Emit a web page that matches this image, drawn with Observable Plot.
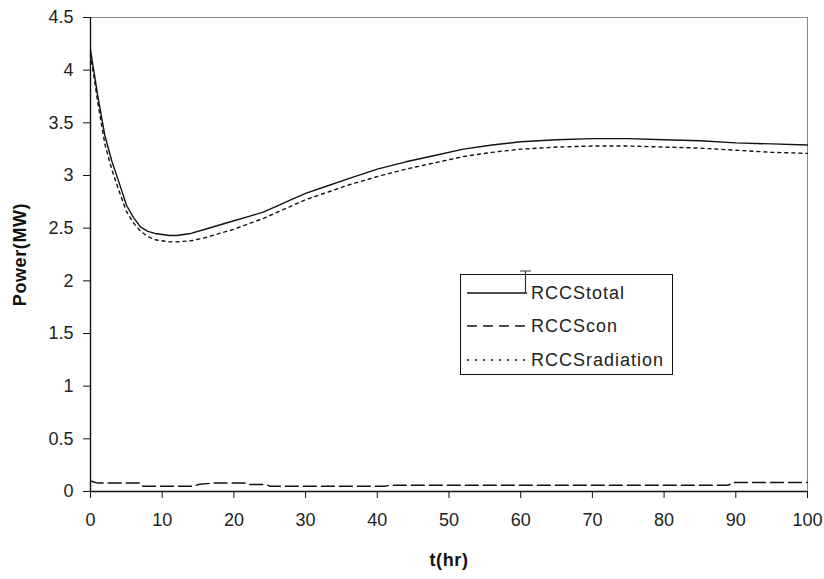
<!DOCTYPE html>
<html>
<head>
<meta charset="utf-8">
<script src="https://cdn.jsdelivr.net/npm/d3@7"></script>
<script src="https://cdn.jsdelivr.net/npm/@observablehq/plot@0.6"></script>
<style>
  body { margin: 0; background: #fff; }
  #wrap { position: relative; width: 824px; height: 579px; font-family: "Liberation Sans", Arial, sans-serif; }
  #wrap > svg { display: block; }
  g[aria-label="x-axis label"] text, g[aria-label="y-axis label"] text { font-weight: bold; fill: #111; letter-spacing: 0.6px; }
  g[aria-label="x-axis tick label"] text, g[aria-label="y-axis tick label"] text { fill: #222; }
  #legend { position: absolute; left: 460px; top: 274px; width: 211px; height: 99px; border: 1px solid #111; background: #fff; }
  #legend .row { position: absolute; left: 6px; height: 20px; display: flex; align-items: center; font-size: 18px; letter-spacing: 1px; color: #222; }
  #legend .row svg { margin-right: 4px; }
  #cursor { position: absolute; left: 518px; top: 268px; }
</style>
</head>
<body>
<div id="wrap"></div>
<script>
// time points (hr)
const tMain = [0,0.5,1,2,3,4,5,6,7,8,9,10,11,12,14,16,18,20,22,24,26,28,30,33,36,40,44,48,52,56,60,65,70,75,80,85,90,95,100];
// RCCS total power (MW)
const totalVals = [4.19,3.98,3.76,3.38,3.13,2.93,2.72,2.60,2.51,2.47,2.45,2.44,2.43,2.43,2.45,2.49,2.53,2.57,2.61,2.65,2.71,2.77,2.83,2.90,2.97,3.06,3.13,3.19,3.25,3.29,3.32,3.34,3.35,3.35,3.34,3.33,3.31,3.30,3.29];
// RCCS radiation power (MW)
const radiationVals = [4.15,3.93,3.70,3.30,3.05,2.85,2.66,2.55,2.47,2.42,2.39,2.38,2.37,2.37,2.38,2.41,2.45,2.49,2.54,2.59,2.65,2.71,2.77,2.84,2.91,2.99,3.06,3.12,3.18,3.22,3.25,3.27,3.28,3.28,3.27,3.26,3.24,3.22,3.21];
// RCCS convection power (MW)
const tCon = [0,1,7,7.3,14.5,15,17,21.5,22,24.5,25,41,42,89,89.5,100];
const conVals = [0.10,0.08,0.08,0.05,0.05,0.066,0.08,0.08,0.066,0.066,0.05,0.05,0.06,0.06,0.085,0.085];
// ticks
const xTicks = [0,10,20,30,40,50,60,70,80,90,100];
const yTicks = [0,0.5,1,1.5,2,2.5,3,3.5,4,4.5];
const seriesNames = ["RCCStotal","RCCScon","RCCSradiation"];

const total = tMain.map((t,i) => ({t, v: totalVals[i]}));
const radiation = tMain.map((t,i) => ({t, v: radiationVals[i]}));
const con = tCon.map((t,i) => ({t, v: conVals[i]}));

const chart = Plot.plot({
  width: 824,
  height: 579,
  marginLeft: 90,
  marginRight: 17,
  marginTop: 17,
  marginBottom: 88,
  style: {fontFamily: '"Liberation Sans", Arial, sans-serif', fontSize: "18px", background: "#fff", color: "#222"},
  x: {domain: [0,100]},
  y: {domain: [0,4.5]},
  marks: [
    Plot.frame({stroke: "#888"}),
    Plot.axisX({ticks: xTicks, tickSize: 7, tickPadding: 15, tickFormat: d => String(d), label: "t(hr)", labelAnchor: "center", labelOffset: 74, labelArrow: "none", stroke: "#111"}),
    Plot.axisY({ticks: yTicks, tickSize: 7, tickPadding: 10, tickFormat: d => String(d), label: "Power(MW)", labelAnchor: "center", labelOffset: 77, labelArrow: "none", stroke: "#111"}),
    Plot.ruleX([0], {stroke: "#111", strokeWidth: 1.4}),
    Plot.ruleY([0], {stroke: "#111", strokeWidth: 1.4}),
    Plot.line(con, {x: "t", y: "v", stroke: "#111", strokeWidth: 1.4, strokeDasharray: "13,5"}),
    Plot.line(radiation, {x: "t", y: "v", stroke: "#111", strokeWidth: 1.4, strokeDasharray: "3,4"}),
    Plot.line(total, {x: "t", y: "v", stroke: "#111", strokeWidth: 1.4})
  ]
});
document.getElementById("wrap").appendChild(chart);

// legend
const legend = document.createElement("div");
legend.id = "legend";
const dashes = ["none", "10,6", "2,6"];
const tops = [8, 41, 75];
seriesNames.forEach((name, i) => {
  const row = document.createElement("div");
  row.className = "row";
  row.style.top = tops[i] + "px";
  row.innerHTML = `<svg width="60" height="10"><line x1="0" y1="5" x2="60" y2="5" stroke="#111" stroke-width="1.4" stroke-dasharray="${dashes[i]}"/></svg><span>${name}</span>`;
  legend.appendChild(row);
});
document.getElementById("wrap").appendChild(legend);

// I-beam cursor seen over the legend
const cur = document.createElement("div");
cur.id = "cursor";
cur.innerHTML = `<svg width="16" height="30"><path d="M2,3H13M7.5,3V26" stroke="#333" stroke-width="1.2" fill="none"/></svg>`;
document.getElementById("wrap").appendChild(cur);
</script>
</body>
</html>
